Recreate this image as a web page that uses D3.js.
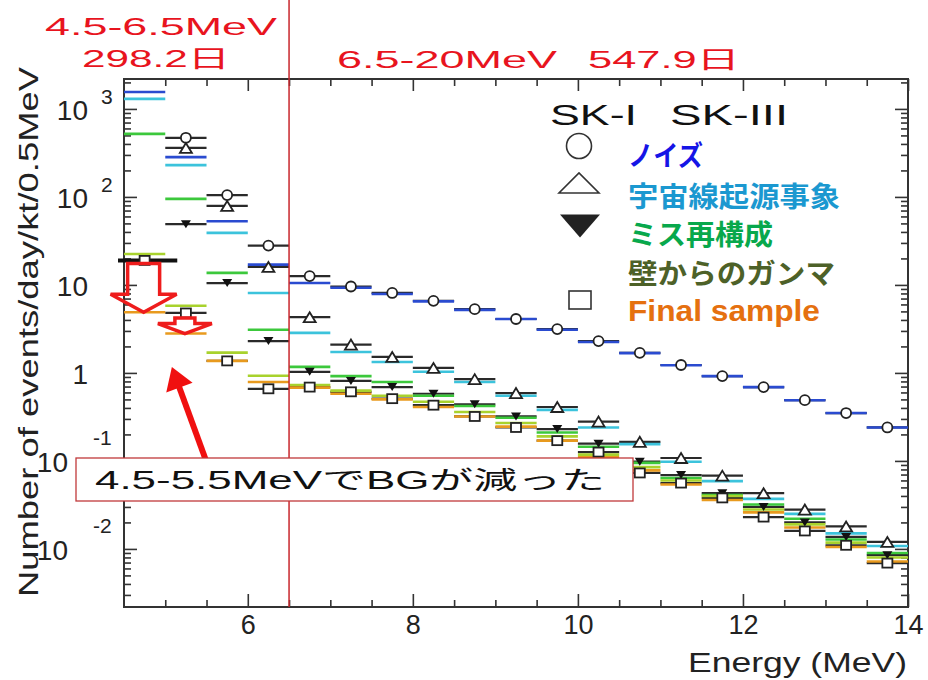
<!DOCTYPE html>
<html>
<head>
<meta charset="utf-8">
<script src="https://cdn.jsdelivr.net/npm/d3@7"></script>
<style>
  body { margin: 0; background: #fff; }
  text { font-family: "Liberation Sans", "Noto Sans CJK JP", sans-serif; }
</style>
</head>
<body>
<div id="chart"></div>
<script>
// bins of 0.5 MeV
var binLo = [4.5, 5.0, 5.5, 6.0, 6.5, 7.0, 7.5, 8.0, 8.5, 9.0, 9.5, 10.0, 10.5, 11.0, 11.5, 12.0, 12.5, 13.0, 13.5];
var binHi = [5.0, 5.5, 6.0, 6.5, 7.0, 7.5, 8.0, 8.5, 9.0, 9.5, 10.0, 10.5, 11.0, 11.5, 12.0, 12.5, 13.0, 13.5, 14.0];

// SK-I (markers)
var sk1Noise  = [null, 470, 105, 28, 12.6, 9.6, 8.1, 6.6, 5.3, 4.1, 3.15, 2.3, 1.69, 1.23, 0.92, 0.69, 0.49, 0.35, 0.24];
var sk1Cosmic = [null, 360, 79, 16, 4.3, 2.1, 1.52, 1.14, 0.85, 0.59, 0.41, 0.28, 0.165, 0.108, 0.068, 0.043, 0.028, 0.018, 0.012];
var sk1Misrec = [null, 49, 10.5, 2.3, 1.03, 0.81, 0.69, 0.58, 0.44, 0.32, 0.23, 0.157, 0.098, 0.069, 0.043, 0.030, 0.020, 0.0137, 0.0085];
var sk1Final  = [19, 4.8, 1.37, 0.66, 0.69, 0.61, 0.51, 0.43, 0.32, 0.24, 0.17, 0.126, 0.073, 0.056, 0.038, 0.023, 0.016, 0.011, 0.0069];

// SK-III (coloured lines)
var sk3Noise  = [1560, 283, 53, 17, 10.5, 9.3, 7.9, 6.5, 5.2, 4.1, 3.1, 2.25, 1.68, 1.22, 0.92, 0.69, 0.49, 0.35, 0.24];
var sk3Cosmic = [1300, 230, 39, 8.1, 2.85, 1.73, 1.33, 1.03, 0.79, 0.55, 0.38, 0.24, 0.155, 0.098, 0.059, 0.037, 0.025, 0.015, 0.0108];
var sk3Misrec = [520, 95, 13.7, 3.1, 1.17, 0.92, 0.79, 0.55, 0.42, 0.31, 0.21, 0.145, 0.095, 0.064, 0.041, 0.032, 0.022, 0.0128, 0.0090];
var sk3Wall   = [22.5, 5.8, 1.7, 0.93, 0.73, 0.63, 0.55, 0.47, 0.36, 0.27, 0.19, 0.118, 0.085, 0.060, 0.040, 0.028, 0.019, 0.0118, 0.0080];
var sk3Final  = [4.9, 2.8, 1.37, 0.79, 0.68, 0.58, 0.50, 0.41, 0.32, 0.245, 0.17, 0.11, 0.078, 0.054, 0.036, 0.026, 0.0175, 0.0105, 0.0072];

var xMajor = [6, 8, 10, 12, 14];
var xMinor = [5, 5.5, 6.5, 7, 7.5, 8.5, 9, 9.5, 10.5, 11, 11.5, 12.5, 13, 13.5];
var yDecades = [-2, -1, 0, 1, 2, 3];

var legendLabels = ["ノイズ", "宇宙線起源事象", "ミス再構成", "壁からのガンマ", "Final sample"];
var legendColors = ["#1515e6", "#1b98d0", "#08a84c", "#4d6128", "#e5700f"];

var width = 928, height = 680;
var svg = d3.select("#chart").append("svg")
    .attr("width", width)
    .attr("height", height);

var pLeft = 124, pRight = 908, pTop = 79, pBottom = 607;
var x = d3.scaleLinear().domain([4.5, 14]).range([pLeft, pRight]);
var y = d3.scaleLog().domain([Math.pow(10, -2.66), Math.pow(10, 3.34)]).range([pBottom, pTop]);

// frame + ticks
var axisColor = "#333";
function styleAxis(g) {
    g.select(".domain").remove();
    g.attr("font-size", null).attr("font-family", null);
    g.selectAll("line").attr("stroke", axisColor).attr("stroke-width", 1.6);
    g.selectAll("text").attr("fill", "#222").style("font-size", "27px");
}
svg.append("g").attr("transform", "translate(0," + pBottom + ")")
    .call(d3.axisBottom(x).tickValues(xMajor).tickSizeInner(-13).tickSizeOuter(0).tickPadding(8).tickFormat(d3.format("d")))
    .call(styleAxis);
svg.append("g").attr("transform", "translate(0," + pBottom + ")")
    .call(d3.axisBottom(x).tickValues(xMinor).tickSizeInner(-7).tickSizeOuter(0).tickFormat(""))
    .call(styleAxis);
svg.append("g").attr("transform", "translate(0," + pTop + ")")
    .call(d3.axisTop(x).tickValues(xMajor).tickSizeInner(-12).tickSizeOuter(0).tickFormat(""))
    .call(styleAxis);
svg.append("g").attr("transform", "translate(0," + pTop + ")")
    .call(d3.axisTop(x).tickValues(xMinor).tickSizeInner(-7).tickSizeOuter(0).tickFormat(""))
    .call(styleAxis);

var yMajorVals = yDecades.map(function (e) { return Math.pow(10, e); });
var yMinorVals = [];
[-3, -2, -1, 0, 1, 2, 3].forEach(function (e) {
    for (var m = 2; m <= 9; m++) {
        var v = m * Math.pow(10, e);
        if (v > y.domain()[0] && v < y.domain()[1]) yMinorVals.push(v);
    }
});
[[pLeft, d3.axisLeft], [pRight, d3.axisRight]].forEach(function (p) {
    svg.append("g").attr("transform", "translate(" + p[0] + ",0)")
        .call(p[1](y).tickValues(yMajorVals).tickSizeInner(-13).tickSizeOuter(0).tickFormat(""))
        .call(styleAxis);
    svg.append("g").attr("transform", "translate(" + p[0] + ",0)")
        .call(p[1](y).tickValues(yMinorVals).tickSizeInner(-7).tickSizeOuter(0).tickFormat(""))
        .call(styleAxis);
});
svg.append("rect")
    .attr("x", pLeft).attr("y", pTop)
    .attr("width", pRight - pLeft).attr("height", pBottom - pTop)
    .attr("fill", "none").attr("stroke", axisColor).attr("stroke-width", 2);

// y tick labels, ROOT style 10^n
var yLab = svg.append("g").attr("fill", "#222");
yDecades.forEach(function (e) {
    var ty = y(Math.pow(10, e));
    if (e === 0) {
        yLab.append("text").attr("x", 88).attr("y", ty + 11).attr("text-anchor", "end")
            .attr("font-size", 28).text("1");
    } else if (e === 1) {
        yLab.append("text").attr("x", 88).attr("y", ty + 11).attr("text-anchor", "end")
            .attr("font-size", 28).text("10");
    } else if (e > 1) {
        yLab.append("text").attr("x", 88).attr("y", ty + 11).attr("text-anchor", "end")
            .attr("font-size", 28).text("10");
        yLab.append("text").attr("x", 101).attr("y", ty - 5)
            .attr("font-size", 21).text(e);
    } else {
        yLab.append("text").attr("x", 68).attr("y", ty + 11).attr("text-anchor", "end")
            .attr("font-size", 28).text("10");
        yLab.append("text").attr("x", 93).attr("y", ty - 16)
            .attr("font-size", 21).text(e);
    }
});

// axis titles
svg.append("text")
    .attr("x", 907).attr("y", 672).attr("text-anchor", "end")
    .attr("font-size", 27).attr("fill", "#222")
    .attr("textLength", 219).attr("lengthAdjust", "spacingAndGlyphs")
    .text("Energy (MeV)");
svg.append("text")
    .attr("transform", "translate(38,332) rotate(-90)")
    .attr("text-anchor", "middle")
    .attr("font-size", 28).attr("fill", "#222")
    .attr("textLength", 530).attr("lengthAdjust", "spacingAndGlyphs")
    .text("Number of events/day/kt/0.5MeV");

// data
var bins = binLo.map(function (lo, i) { return { lo: lo, hi: binHi[i], i: i }; });

function drawBars(vals, color, w) {
    svg.append("g").selectAll("line")
        .data(bins.filter(function (b) { return vals[b.i] != null; }))
        .join("line")
        .attr("x1", function (b) { return x(b.lo); })
        .attr("x2", function (b) { return x(b.hi); })
        .attr("y1", function (b) { return y(vals[b.i]); })
        .attr("y2", function (b) { return y(vals[b.i]); })
        .attr("stroke", color)
        .attr("stroke-width", w);
}

// SK-I error bars
[sk1Noise, sk1Cosmic, sk1Misrec, sk1Final].forEach(function (v) { drawBars(v, "#2a2a2a", 2.2); });

// SK-III lines
drawBars(sk3Cosmic, "#3cc3dc", 2.6);
drawBars(sk3Noise, "#2a4bd0", 2.6);
drawBars(sk3Misrec, "#3cc83c", 2.6);
drawBars(sk3Wall, "#a8d22d", 2.6);
drawBars(sk3Final, "#e89a1e", 2.6);

// old SK-I level in lowest bin
svg.append("line")
    .attr("x1", x(binLo[0]) - 6).attr("x2", x(binHi[0]) + 12)
    .attr("y1", y(sk1Final[0])).attr("y2", y(sk1Final[0]))
    .attr("stroke", "#111").attr("stroke-width", 4);

function cx(b) { return (x(b.lo) + x(b.hi)) / 2; }
function triPath(px, py, w, h, down) {
    var s = down ? -1 : 1;
    return "M" + (px - w / 2) + "," + (py + s * h / 2) + "L" + (px + w / 2) + "," + (py + s * h / 2) +
        "L" + px + "," + (py - s * h / 2) + "Z";
}

var mk = svg.append("g");
bins.forEach(function (b) {
    var px = cx(b);
    if (sk1Noise[b.i] != null)
        mk.append("circle").attr("cx", px).attr("cy", y(sk1Noise[b.i])).attr("r", 5)
            .attr("fill", "#fff").attr("stroke", "#222").attr("stroke-width", 1.8);
    if (sk1Cosmic[b.i] != null)
        mk.append("path").attr("d", triPath(px, y(sk1Cosmic[b.i]), 12, 10, false))
            .attr("fill", "#fff").attr("stroke", "#222").attr("stroke-width", 1.8);
    if (sk1Misrec[b.i] != null)
        mk.append("path").attr("d", triPath(px, y(sk1Misrec[b.i]), 10, 8, true))
            .attr("fill", "#111");
    if (sk1Final[b.i] != null)
        mk.append("rect").attr("x", px - 5).attr("y", y(sk1Final[b.i]) - 4.5)
            .attr("width", 10).attr("height", 9)
            .attr("fill", "#fff").attr("stroke", "#222").attr("stroke-width", 1.8);
});

// hollow red arrows: SK-I -> SK-III final sample
function hollowArrow(b, from, to, shaftHalf, headHalf, headLen, gap) {
    var px = cx(b) - 1;
    var y0 = y(from) + gap, y2 = y(to), y1 = y2 - headLen;
    var pts = [[px - shaftHalf, y0], [px + shaftHalf, y0], [px + shaftHalf, y1], [px + headHalf, y1],
        [px, y2], [px - headHalf, y1], [px - shaftHalf, y1]];
    svg.append("path").attr("d", "M" + pts.join("L") + "Z")
        .attr("fill", "none").attr("stroke", "#ee1c1c").attr("stroke-width", 3.5)
        .attr("stroke-linejoin", "miter");
}
hollowArrow(bins[0], sk1Final[0], sk3Final[0], 16, 33, 18, 3);
hollowArrow(bins[1], sk1Final[1], sk3Final[1], 10, 27, 10, 5);

// SK-I / SK-III split
svg.append("line")
    .attr("x1", x(6.5)).attr("x2", x(6.5))
    .attr("y1", 0).attr("y2", pBottom)
    .attr("stroke", "#c8262c").attr("stroke-width", 1.5);

// red titles
var red = "#e8141e";
function wideText(tx, ty, size, len, str, color, weight) {
    return svg.append("text").attr("x", tx).attr("y", ty)
        .attr("font-size", size).attr("fill", color).attr("font-weight", weight || "normal")
        .attr("textLength", len).attr("lengthAdjust", "spacingAndGlyphs")
        .text(str);
}
wideText(45, 35, 24, 232, "4.5-6.5MeV", red);
wideText(82, 67, 24, 148, "298.2日", red);
wideText(337, 68, 24, 220, "6.5-20MeV", red);
wideText(588, 68, 24, 152, "547.9日", red);

// legend
wideText(550, 125, 30, 87, "SK-I", "#111");
wideText(670, 125, 30, 118, "SK-III", "#111");
var lg = svg.append("g").attr("stroke", "#333").attr("stroke-width", 1.6);
lg.append("circle").attr("cx", 579).attr("cy", 146).attr("r", 12.5).attr("fill", "none");
lg.append("path").attr("d", triPath(579, 183, 40, 20, false)).attr("fill", "none");
lg.append("path").attr("d", triPath(580, 226, 40, 23, true)).attr("fill", "#222").attr("stroke", "none");
lg.append("rect").attr("x", 569).attr("y", 291).attr("width", 22).attr("height", 18).attr("fill", "none");

var legendBase = [166, 207, 245, 284, 321];
var legendLen = [75, 212, 145, 207, 192];
legendLabels.forEach(function (lab, i) {
    wideText(628, legendBase[i], i === 4 ? 30 : 28, legendLen[i], lab, legendColors[i], "bold");
});

// annotation arrow + box
var tip = [x(5.08), y(1.17)], tail = [x(5.5), 462];
var dx = tip[0] - tail[0], dy = tip[1] - tail[1], len = Math.sqrt(dx * dx + dy * dy);
var ux = dx / len, uy = dy / len, hl = 22, hw = 14;
var base = [tip[0] - hl * ux, tip[1] - hl * uy];
svg.append("line")
    .attr("x1", tail[0]).attr("y1", tail[1]).attr("x2", base[0] + 2 * ux).attr("y2", base[1] + 2 * uy)
    .attr("stroke", "#f01010").attr("stroke-width", 6);
svg.append("path")
    .attr("d", "M" + tip + "L" + [base[0] - hw * uy, base[1] + hw * ux] + "L" + [base[0] + hw * uy, base[1] - hw * ux] + "Z")
    .attr("fill", "#f01010");

svg.append("rect")
    .attr("x", 76).attr("y", 458).attr("width", 557).attr("height", 43)
    .attr("fill", "#fff").attr("stroke", "#c0393b").attr("stroke-width", 1.3);
wideText(95, 489, 25, 510, "4.5-5.5MeVでBGが減った", "#111");
</script>
</body>
</html>
